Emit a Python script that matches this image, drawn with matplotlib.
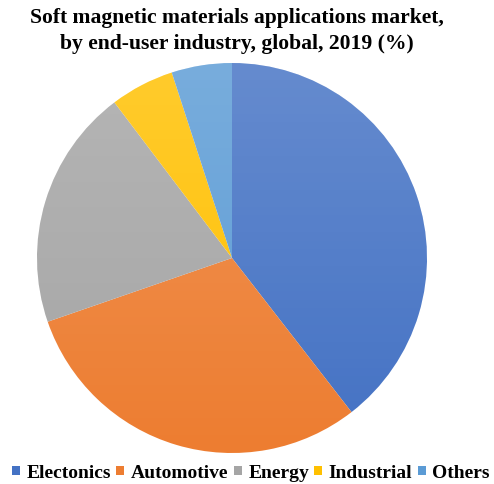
import matplotlib
matplotlib.use("Agg")
import matplotlib.pyplot as plt
import numpy as np
from matplotlib.patches import Circle

categories = ["Electonics", "Automotive", "Energy", "Industrial", "Others"]
values = [39.5, 30.2, 20.0, 5.3, 5.0]
colors = ["#4472C4", "#ED7D31", "#A5A5A5", "#FFC000", "#5B9BD5"]

fig = plt.figure(figsize=(4.94, 4.84), dpi=100)
ax = fig.add_axes([37/494, (484-258-195)/484, 390/494, 390/484])
wedges, _ = ax.pie(values, colors=colors, startangle=90, counterclock=False,
                   radius=1.0, wedgeprops=dict(linewidth=0))
# subtle vertical gradient (lighter at top)
grad = np.linspace(0, 1, 256)
rgba = np.zeros((256, 1, 4))
rgba[:, 0, :3] = 1.0
rgba[:, 0, 3] = 0.18 * grad
im = ax.imshow(rgba, extent=[-1, 1, -1, 1], origin="lower", aspect="auto", zorder=5)
clip = Circle((0, 0), 1.0, transform=ax.transData)
im.set_clip_path(clip)
ax.set_xlim(-1, 1)
ax.set_ylim(-1, 1)
ax.set_aspect("equal")
ax.axis("off")

fig.text(0.48, 1 - 18/484, "Soft magnetic materials applications market,",
         ha="center", va="center", fontsize=15.6, fontweight="bold", family="Liberation Serif")
fig.text(0.48, 1 - 44/484, "by end-user industry, global, 2019 (%)",
         ha="center", va="center", fontsize=15.6, fontweight="bold", family="Liberation Serif")

leg = fig.legend(wedges, categories, loc="center", bbox_to_anchor=(0.508, 1 - 473/484),
                 ncol=5, frameon=False, handlelength=0.4, handleheight=0.4,
                 handletextpad=0.35, columnspacing=0.27,
                 prop=dict(family="Liberation Serif", weight="bold", size=14))
fig.savefig("out.png", dpi=100)
